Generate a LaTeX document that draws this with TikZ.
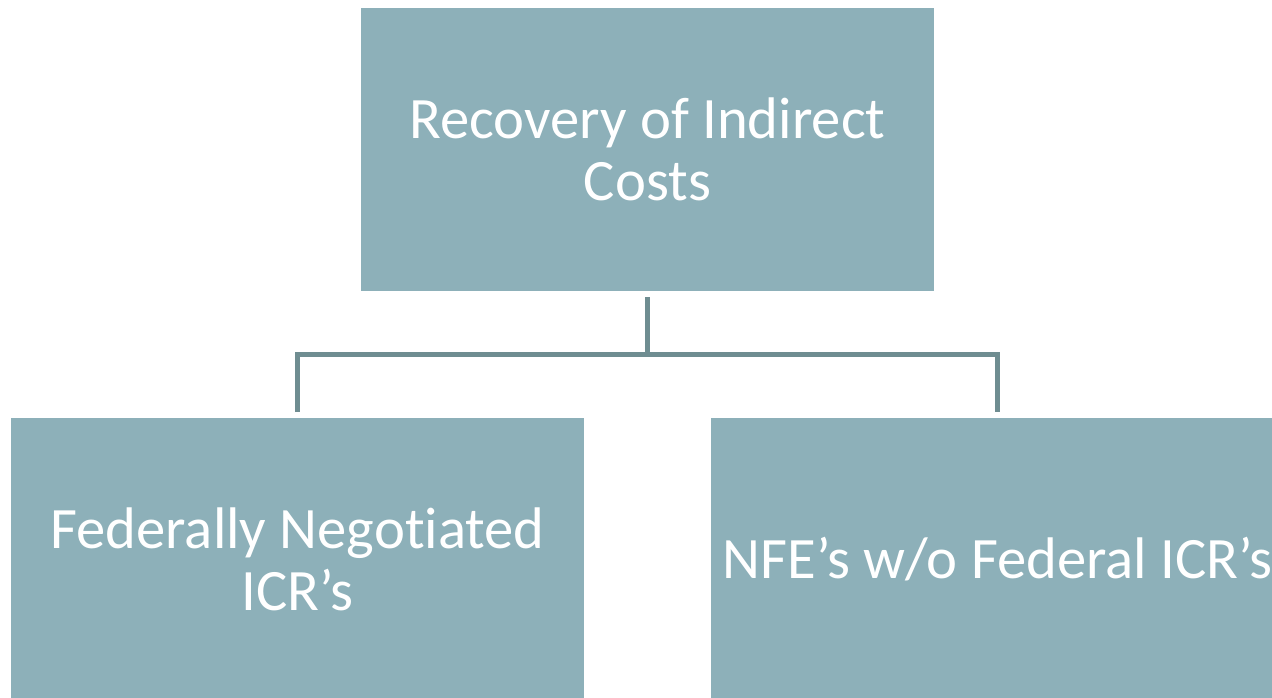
\documentclass[tikz,border=0pt]{standalone}
\usepackage{fontspec}
\setmainfont[Ligatures=NoCommon]{Carlito}
\usepackage{tikz}
\definecolor{boxfill}{RGB}{141,176,185}
\definecolor{linkcol}{RGB}{111,141,145}

\begin{document}
\begin{tikzpicture}[x=0.75pt, y=-0.75pt,
    block/.style={fill=boxfill, draw=none, minimum width=573*0.75pt, minimum height=283*0.75pt,
        outer sep=4.5pt, align=center, text=white, font=\fontsize{44}{47}\selectfont},
    link/.style={draw=linkcol, line width=3.75pt}]
        \useasboundingbox (0,0) rectangle (1272,697);
        \clip (0,0) rectangle (1272,697);

        % Các hộp
        \node[block] (recovery) at (647.5,149.5) {Recovery of Indirect\\Costs};
        \node[block] (fed) at (297.5,559.5) {Federally Negotiated\\ICR’s};
        \node[block] (nfe) at (997.5,559.5) {NFE’s w/o Federal ICR’s};

        % Đường nối
        \draw[link] (recovery.south) -- ++(0,57) coordinate (hub);
        \draw[link] (fed.north) |- (hub) -| (nfe.north);
    \end{tikzpicture}
\end{document}
